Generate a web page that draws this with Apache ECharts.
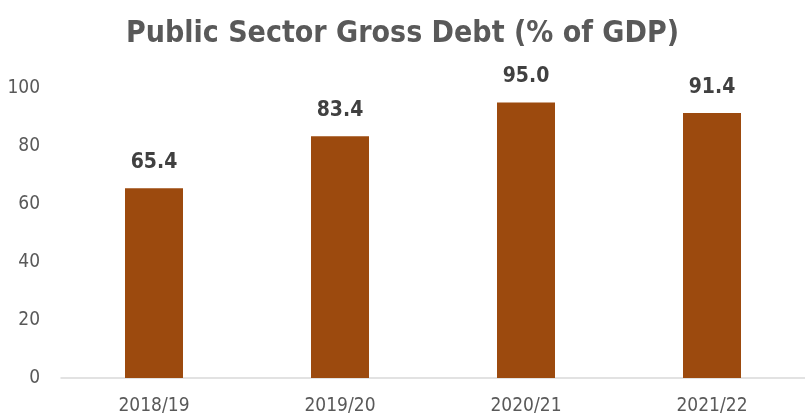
<!DOCTYPE html>
<html><head><meta charset="utf-8">
<script src="https://cdn.jsdelivr.net/npm/echarts@6/dist/echarts.min.js"></script>
<style>html,body{margin:0;padding:0;background:#fff}#c{width:805px;height:417px}</style>
</head><body><div id="c"></div>
<script>
const categories = ['2018/19', '2019/20', '2020/21', '2021/22'];
const debtValues = [65.4, 83.4, 95.0, 91.4];
const yTicks = [0, 20, 40, 60, 80, 100];
const titleText = 'Public Sector Gross Debt (% of GDP)';
const font = '"DejaVu Sans Condensed", "Liberation Sans", sans-serif';
const chart = echarts.init(document.getElementById('c'));
chart.setOption({
  animation: false,
  title: { text: titleText, left: 'center', top: 14,
    textStyle: { fontFamily: font, fontSize: 30, fontWeight: 'bold', color: '#595959' } },
  grid: { left: 61, right: 0, top: 88, bottom: 39 },
  xAxis: { type: 'category', data: categories,
    axisLine: { lineStyle: { color: '#d9d9d9', width: 1.5 } }, axisTick: { show: false },
    axisLabel: { fontFamily: font, fontSize: 19, color: '#595959', margin: 19 } },
  yAxis: { type: 'value', min: yTicks[0], max: yTicks[yTicks.length-1], interval: 20,
    splitLine: { show: false }, axisLine: { show: false }, axisTick: { show: false },
    axisLabel: { fontFamily: font, fontSize: 19, color: '#595959', margin: 21,
      formatter: v => yTicks.includes(v) ? String(v) : '' } },
  series: [{ type: 'bar', data: debtValues, barWidth: 58,
    itemStyle: { color: '#9C4A0E' },
    label: { show: true, position: 'top', distance: 15, formatter: p => p.value.toFixed(1),
      fontFamily: font, fontSize: 21, fontWeight: 'bold', color: '#404040' } }]
});
</script></body></html>
